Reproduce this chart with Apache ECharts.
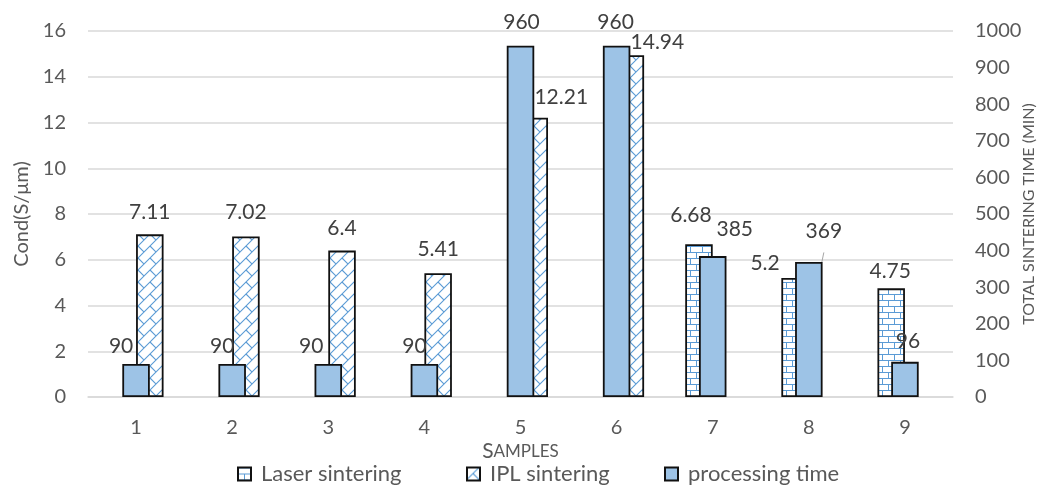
<!DOCTYPE html>
<html>
<head>
<meta charset="utf-8">
<title>Conductivity and sintering time per sample</title>
<script src="https://cdn.jsdelivr.net/npm/echarts@6/dist/echarts.min.js"></script>
<style>
  html, body { margin: 0; padding: 0; background: #ffffff; }
  #chart { width: 1038px; height: 487px; }
</style>
</head>
<body>
<div id="chart"></div>
<script>
// Samples on the category axis
const categories = ['1', '2', '3', '4', '5', '6', '7', '8', '9'];
// Conductivity (S/µm), left axis
const laserCond = [null, null, null, null, null, null, 6.68, 5.2, 4.75];
const iplCond = [7.11, 7.02, 6.4, 5.41, 12.21, 14.94, null, null, null];
// Total sintering time (min), right axis
const processingTime = [90, 90, 90, 90, 960, 960, 385, 369, 96];
// Axis tick ranges
const condTicks = { min: 0, max: 16, interval: 2 };
const timeTicks = { min: 0, max: 1000, interval: 100 };

// Hand-placed label nudges [dx, dy] per bar
const laserLabelShift = [null, null, null, null, null, null, [-8, -13], [-30, 1], [-1, -2]];
const iplLabelShift = [[0, -7], [0, -9], [0, -7], [0, -9], [27, -5], [27, 2], null, null, null];
const timeLabelShift = [[-15, -2], [-10, -2], [-17, -2], [-10, -2], [1, -8], [-1, -8], [22, -11], [15, -15], [3, -5]];
const timeLeaderLine = [false, false, false, false, false, false, false, true, false];

const FILL_BLUE = '#9DC3E6';
const LINE_BLUE = '#5B9BD5';
const BORDER = '#111111';
const FONT = 'Lato, "Open Sans", sans-serif';
const AXIS_GREY = '#595959';

// Horizontal brick hatch
function brickHorizontal() {
  const c = document.createElement('canvas');
  c.width = 12; c.height = 12;
  const g = c.getContext('2d');
  g.fillStyle = '#ffffff'; g.fillRect(0, 0, 12, 12);
  g.strokeStyle = LINE_BLUE; g.lineWidth = 1;
  g.beginPath();
  g.moveTo(0, 0.5); g.lineTo(12, 0.5);
  g.moveTo(0, 6.5); g.lineTo(12, 6.5);
  g.moveTo(0.5, 0); g.lineTo(0.5, 6.5);
  g.moveTo(6.5, 6.5); g.lineTo(6.5, 12);
  g.stroke();
  return c;
}

// Diagonal brick hatch
function brickDiagonal() {
  const c = document.createElement('canvas');
  c.width = 12; c.height = 12;
  const g = c.getContext('2d');
  g.fillStyle = '#ffffff'; g.fillRect(0, 0, 12, 12);
  g.strokeStyle = LINE_BLUE; g.lineWidth = 1.1;
  g.beginPath();
  g.moveTo(-1, 13); g.lineTo(13, -1);
  g.moveTo(-1, 1); g.lineTo(1, -1);
  g.moveTo(11, 13); g.lineTo(13, 11);
  g.moveTo(6, 6); g.lineTo(13, 13);
  g.stroke();
  return c;
}

const laserFill = { image: brickHorizontal(), repeat: 'repeat' };
const iplFill = { image: brickDiagonal(), repeat: 'repeat' };

const labelStyle = {
  show: true,
  position: 'top',
  distance: 5,
  color: '#404040',
  fontSize: 21,
  fontFamily: FONT
};

// Bar data items carrying their own label nudge
function barItems(values, shift, leader) {
  return values.map((v, i) => {
    if (v === null) return null;
    const item = { value: v };
    if (shift[i]) item.label = { offset: shift[i] };
    if (leader && leader[i]) item.labelLine = { show: true, lineStyle: { color: '#a6a6a6', width: 1 } };
    return item;
  });
}

const legendText = { color: AXIS_GREY, fontSize: 22, fontFamily: FONT, padding: [0, 0, 0, 5] };
function legendAt(name, left) {
  return {
    data: [{ name: name, icon: 'rect' }], left: left, top: 463, orient: 'horizontal', padding: 0,
    itemWidth: 13, itemHeight: 13, textStyle: legendText,
    selectedMode: false
  };
}

const chart = echarts.init(document.getElementById('chart'), null, { renderer: 'canvas' });

chart.setOption({
  backgroundColor: '#ffffff',
  animation: false,
  grid: { left: 88, right: 85, top: 31, bottom: 90, containLabel: false, outerBoundsMode: 'none' },
  legend: [
    legendAt('Laser sintering', 237),
    legendAt('IPL sintering', 466),
    legendAt('processing time', 664)
  ],
  xAxis: [
    {
      type: 'category',
      data: categories,
      axisLine: { show: true, lineStyle: { color: '#d9d9d9', width: 1.5 } },
      axisTick: { show: false },
      axisLabel: { color: AXIS_GREY, fontSize: 20, fontFamily: FONT, margin: 21 },
      name: '{big|S}{small|AMPLES}',
      nameLocation: 'middle',
      nameGap: 44,
      nameMoveOverlap: false,
      nameTextStyle: {
        rich: {
          big: { fontSize: 21, color: AXIS_GREY, fontFamily: FONT },
          small: { fontSize: 17, color: AXIS_GREY, fontFamily: FONT }
        }
      }
    },
    {
      type: 'category',
      data: categories,
      show: false
    }
  ],
  yAxis: [
    {
      type: 'value',
      min: condTicks.min, max: condTicks.max, interval: condTicks.interval,
      position: 'left',
      name: 'Cond(S/μm)',
      nameLocation: 'middle',
      nameRotate: 90,
      nameGap: 56,
      nameMoveOverlap: false,
      nameTextStyle: { color: AXIS_GREY, fontSize: 20, fontFamily: FONT },
      axisLine: { show: false },
      axisTick: { show: false },
      axisLabel: { color: AXIS_GREY, fontSize: 20, fontFamily: FONT, margin: 22 },
      splitLine: { show: true, lineStyle: { color: '#d9d9d9', width: 1.5 } }
    },
    {
      type: 'value',
      min: timeTicks.min, max: timeTicks.max, interval: timeTicks.interval,
      position: 'right',
      name: 'TOTAL SINTERING TIME (MIN)',
      nameLocation: 'middle',
      nameRotate: 90,
      nameGap: 68,
      nameMoveOverlap: false,
      nameTextStyle: { color: AXIS_GREY, fontSize: 16, fontFamily: FONT },
      axisLine: { show: false },
      axisTick: { show: false },
      axisLabel: {
        color: AXIS_GREY, fontSize: 20, fontFamily: FONT, margin: 22, align: 'left',
        formatter: v => String(v)
      },
      splitLine: { show: false }
    }
  ],
  series: [
    {
      name: 'Laser sintering',
      type: 'bar',
      xAxisIndex: 0, yAxisIndex: 0,
      data: barItems(laserCond, laserLabelShift),
      barWidth: 27.5,
      barGap: '0%',
      itemStyle: { color: laserFill, borderColor: BORDER, borderWidth: 1.8 },
      label: labelStyle,
      z: 2
    },
    {
      name: 'IPL sintering',
      type: 'bar',
      xAxisIndex: 0, yAxisIndex: 0,
      data: barItems(iplCond, iplLabelShift),
      barWidth: 27.5,
      barGap: '0%',
      itemStyle: { color: iplFill, borderColor: BORDER, borderWidth: 1.8 },
      label: labelStyle,
      z: 2
    },
    {
      name: 'processing time',
      type: 'bar',
      xAxisIndex: 1, yAxisIndex: 1,
      data: barItems(processingTime, timeLabelShift, timeLeaderLine),
      barWidth: 27.5,
      itemStyle: { color: FILL_BLUE, borderColor: BORDER, borderWidth: 1.8 },
      label: labelStyle,
      z: 3
    }
  ]
});
</script>
</body>
</html>
